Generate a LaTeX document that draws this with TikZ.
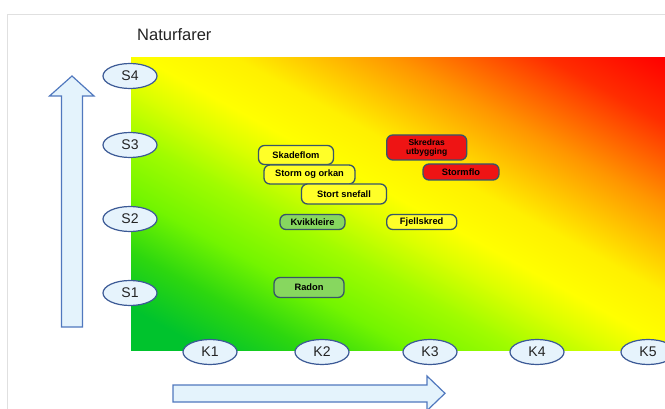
\documentclass[tikz,border=0pt]{standalone}
\usepackage{fontspec}
\setmainfont{Liberation Sans}
\usetikzlibrary{shapes.geometric}
\definecolor{cg0}{RGB}{0,195,45}
\definecolor{cg1}{RGB}{45,215,15}
\definecolor{cg2}{RGB}{115,245,0}
\definecolor{cg3}{RGB}{160,252,0}
\definecolor{cg4}{RGB}{220,255,0}
\definecolor{cyel}{RGB}{255,255,0}
\definecolor{cyelB}{RGB}{255,240,0}
\definecolor{corange}{RGB}{255,150,0}
\definecolor{credA}{RGB}{255,45,0}
\definecolor{cred}{RGB}{255,0,0}
\definecolor{ellfill}{RGB}{230,243,252}
\definecolor{ellline}{RGB}{60,90,150}
\definecolor{boxline}{RGB}{55,85,105}
\definecolor{boxyellow}{RGB}{255,255,40}
\definecolor{boxgreen}{RGB}{135,215,95}
\definecolor{boxred}{RGB}{238,20,20}
\definecolor{arrfill}{RGB}{228,243,252}
\definecolor{arrline}{RGB}{80,120,190}
\definecolor{txtgray}{RGB}{35,35,35}
\pgfdeclarehorizontalshading{riskshade}{100bp}{color(0bp)=(cg0); color(32.8bp)=(cg0); color(36.7bp)=(cg1); color(40.6bp)=(cg2); color(44.5bp)=(cg3); color(48bp)=(cg4); color(50.4bp)=(cyel); color(53.9bp)=(cyelB); color(59.8bp)=(corange); color(65.6bp)=(credA); color(70bp)=(cred); color(100bp)=(cred)}
\tikzset{
  axisell/.style={ellipse, draw=ellline, fill=ellfill, line width=1.2pt, minimum width=54pt, minimum height=25pt, inner sep=0pt, text=txtgray, font=\fontsize{14}{14}\selectfont},
  hazard/.style={draw=boxline, line width=1.3pt, rounded corners=6pt, inner sep=0pt, align=center, text=black, font=\bfseries\fontsize{9.3}{10}\selectfont},
  bigarrow/.style={draw=arrline, fill=arrfill, line width=1.2pt, line join=miter},
}
\begin{document}
\begin{tikzpicture}[x=1pt,y=-1pt]
\useasboundingbox (0,0) rectangle (665,409);
\fill[white] (0,0) rectangle (665,409);
\draw[black!12, line width=0.6pt] (7,409) -- (7,14) -- (665,14);
% gradient field
\begin{scope}
  \clip (131,58) rectangle (665,350);
  \begin{scope}[transform canvas={shift={(398,204)},rotate=61.3}]
    \shade[shading=riskshade] (-320,-320) rectangle (320,320);
  \end{scope}
\end{scope}
% title
\node[anchor=west, text=txtgray, font=\fontsize{16.5}{17}\selectfont, inner sep=0pt] (title) at (137,35) {Naturfarer};
% arrows
\draw[bigarrow] (61.5,327) -- (61.5,96) -- (49.5,96) -- (72,76) -- (94,96) -- (82.5,96) -- (82.5,327) -- cycle;
\draw[bigarrow] (173,385) -- (427,385) -- (427,376) -- (445,393.3) -- (427,410.6) -- (427,402) -- (173,402) -- cycle;
% S axis
\node[axisell] (S4) at (130,76) {S4};
\node[axisell] (S3) at (130,145) {S3};
\node[axisell] (S2) at (130,219) {S2};
\node[axisell] (S1) at (130,293) {S1};
% K axis
\node[axisell] (K1) at (210,352) {K1};
\node[axisell] (K2) at (322,352) {K2};
\node[axisell] (K3) at (430,352) {K3};
\node[axisell] (K4) at (537,352) {K4};
\node[axisell] (K5) at (648,352) {K5};
% hazards
\node[hazard, fill=boxyellow, minimum width=75pt, minimum height=19pt] (skadeflom) at (296,155) {Skadeflom};
\node[hazard, fill=boxyellow, minimum width=91pt, minimum height=19pt] (storm) at (309.5,174.5) {Storm og orkan};
\node[hazard, fill=boxyellow, minimum width=85pt, minimum height=20pt] (snefall) at (344,194) {Stort snefall};
\node[hazard, fill=boxgreen, minimum width=65pt, minimum height=15pt] (kvikk) at (312.5,222) {Kvikkleire};
\node[hazard, fill=boxyellow, minimum width=70pt, minimum height=15pt] (fjell) at (421.7,222) {Fjellskred};
\node[hazard, fill=boxred, minimum width=80pt, minimum height=25pt, font=\bfseries\fontsize{8.5}{9}\selectfont] (skredras) at (426.7,147.5) {Skredras\\utbygging};
\node[hazard, fill=boxred, minimum width=76pt, minimum height=16pt] (stormflo) at (461,172) {Stormflo};
\node[hazard, fill=boxgreen, minimum width=70pt, minimum height=20pt] (radon) at (309,287.5) {Radon};
\end{tikzpicture}
\end{document}
